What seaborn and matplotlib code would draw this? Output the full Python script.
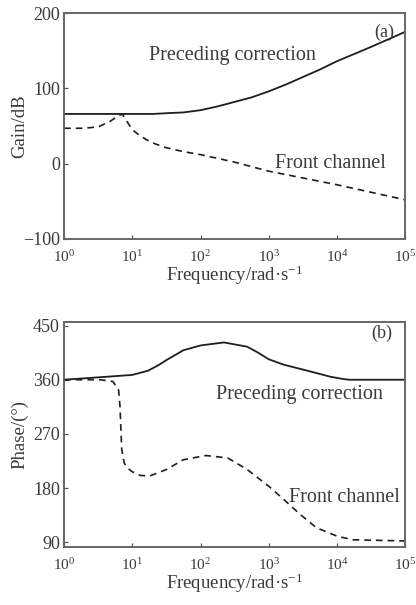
import matplotlib
matplotlib.use('Agg')
import matplotlib.pyplot as plt
import numpy as np
import pandas as pd
import seaborn as sns

# (a) gain curves
gain_pre_freq = [1, 10, 20, 32, 56, 100, 178, 316, 562, 1000, 1778, 3162, 5623, 10000,
                 31623, 100000]
gain_pre_db = [66, 66, 66, 67, 68, 71, 76, 82, 88, 96, 105, 115, 125, 136, 155, 175]

gain_front_freq = [1, 2, 3.2, 4.7, 5.9, 7.1, 10, 12.6, 16, 22, 32, 56, 100, 316, 1000, 3162,
                   10000, 31623, 100000]
gain_front_db = [47, 47, 49, 56, 62, 66, 45, 38, 32, 26, 21, 16, 12, 2, -10, -19, -28, -38, -48]

# (b) phase curves
phase_pre_freq = [1, 3.2, 10, 17, 24, 32, 56, 100, 220, 480, 700, 1000, 1660, 4000, 8000,
                  12600, 15000, 100000]
phase_pre_deg = [360, 364, 368, 375, 384, 393, 409, 417, 422, 415, 405, 394, 385, 374, 365,
                 361, 360, 360]

phase_front_freq = [1, 3.4, 5.2, 6.3, 6.6, 7.0, 7.6, 8.3, 10, 13, 18, 32, 56, 120, 250,
                    480, 1000, 1660, 2900, 5000, 10000, 17000, 100000]
phase_front_deg = [360, 360, 357, 343, 316, 244, 222, 214, 207, 201, 200, 211, 227, 234,
                   230, 211, 183, 161, 136, 114, 100, 94, 92]

LINE = '#1e1e1e'
TEXT = '#3a3a3a'

sns.set_style('ticks')
plt.rcParams['font.family'] = ['Liberation Serif', 'DejaVu Serif']
plt.rcParams['mathtext.fontset'] = 'custom'
plt.rcParams['mathtext.rm'] = 'Liberation Serif'
plt.rcParams['mathtext.it'] = 'Liberation Serif:italic'
plt.rcParams['text.color'] = TEXT
plt.rcParams['axes.labelcolor'] = TEXT
plt.rcParams['xtick.color'] = '#555555'
plt.rcParams['ytick.color'] = '#555555'
plt.rcParams['xtick.labelcolor'] = TEXT
plt.rcParams['ytick.labelcolor'] = TEXT


def curve(freq, val):
    return pd.DataFrame({'freq': freq, 'val': val})


def style_axes(ax, ylim, yticks, ylabel):
    ax.set_xscale('log')
    ax.set_xlim(1, 1e5)
    ax.set_ylim(*ylim)
    ax.set_yticks(yticks)
    ax.set_xticks([1, 10, 100, 1000, 10000, 100000])
    ax.xaxis.set_minor_locator(matplotlib.ticker.NullLocator())
    ax.tick_params(axis='x', direction='in', length=3, width=0.9, labelsize=11, pad=7)
    ax.tick_params(axis='y', direction='in', length=3, width=0.9, labelsize=13, pad=3)
    ax.set_xlabel('Frequency/rad·s$^{-1}$', fontsize=13.5, labelpad=-1)
    ax.set_ylabel(ylabel, fontsize=13.5)
    ax.yaxis.set_label_coords(-0.105, 0.5)
    for s in ax.spines.values():
        s.set_visible(True)
        s.set_color('#666666')
        s.set_linewidth(1.4)


fig = plt.figure(figsize=(4.16, 6.05), dpi=100)
ax1 = fig.add_axes([0.154, 0.605, 0.82, 0.3735])
ax2 = fig.add_axes([0.154, 0.0959, 0.82, 0.3719])

sns.lineplot(data=curve(gain_pre_freq, gain_pre_db), x='freq', y='val', ax=ax1,
             color=LINE, lw=1.3, estimator=None, sort=False)
sns.lineplot(data=curve(gain_front_freq, gain_front_db), x='freq', y='val', ax=ax1,
             color=LINE, lw=1.2, estimator=None, sort=False, linestyle=(0, (4, 3)))
style_axes(ax1, (-100, 200), [-100, 0, 100, 200], 'Gain/dB')
ax1.text(0.493, 0.814, 'Preceding correction', transform=ax1.transAxes,
         ha='center', va='center', fontsize=14.5)
ax1.text(0.78, 0.336, 'Front channel', transform=ax1.transAxes,
         ha='center', va='center', fontsize=14.5)
ax1.text(0.94, 0.916, '(a)', transform=ax1.transAxes, ha='center', va='center', fontsize=13)

sns.lineplot(data=curve(phase_pre_freq, phase_pre_deg), x='freq', y='val', ax=ax2,
             color=LINE, lw=1.3, estimator=None, sort=False)
sns.lineplot(data=curve(phase_front_freq, phase_front_deg), x='freq', y='val', ax=ax2,
             color=LINE, lw=1.2, estimator=None, sort=False, linestyle=(0, (4, 3)))
style_axes(ax2, (82, 456), [90, 180, 270, 360, 450], 'Phase/(°)')
ax2.text(0.689, 0.676, 'Preceding correction', transform=ax2.transAxes,
         ha='center', va='center', fontsize=14.5)
ax2.text(0.821, 0.222, 'Front channel', transform=ax2.transAxes,
         ha='center', va='center', fontsize=14.5)
ax2.text(0.932, 0.951, '(b)', transform=ax2.transAxes, ha='center', va='center', fontsize=13)

fig.savefig('out.png', dpi=100)
